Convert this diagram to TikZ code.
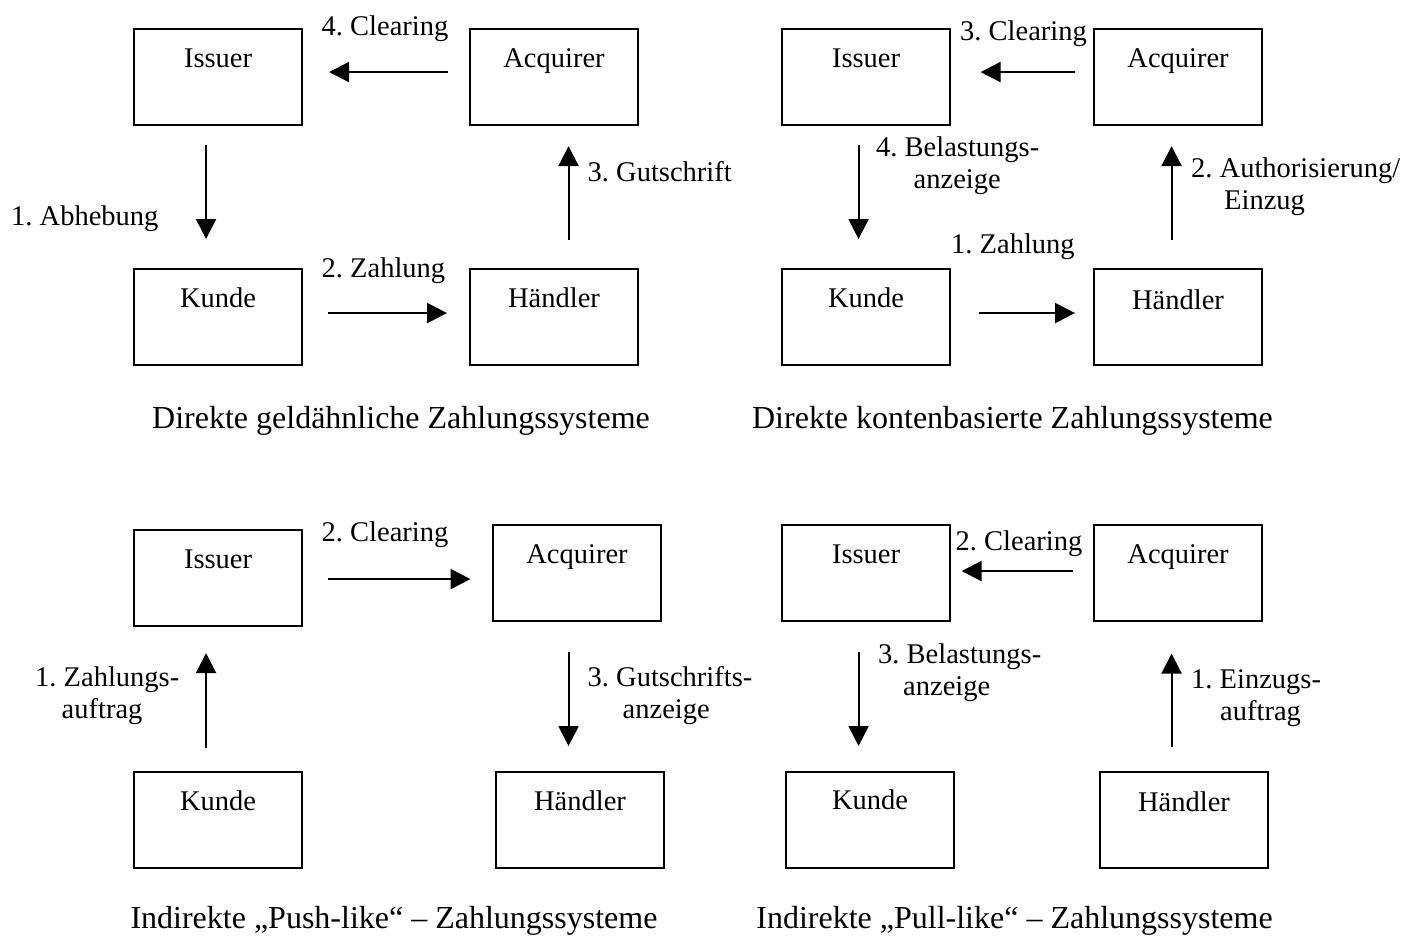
\documentclass[tikz,border=0pt]{standalone}
\usepackage{fontspec}
\setmainfont{Liberation Serif}
\usetikzlibrary{arrows.meta}

\begin{document}
\frenchspacing
\begin{tikzpicture}[
  x=1pt, y=-1pt,
  box/.style={draw, line width=2.1pt, minimum width=168pt, inner sep=0pt,
              text height=38pt, text depth=58pt, anchor=north west,
              font=\fontsize{28.5pt}{32pt}\selectfont},
  % multi-line labels are anchored at the baseline of their last line
  lbl/.style={inner sep=0pt, anchor=base west, align=left,
              font=\fontsize{28.5pt}{32pt}\selectfont},
  captxt/.style={inner sep=0pt, anchor=base,
              font=\fontsize{32pt}{38pt}\selectfont},
  arr/.style={line width=2.1pt, -{Triangle[length=20pt,width=20pt]}}
]
\useasboundingbox (0,0) rectangle (1423,938);

% ---------- Direkte geldähnliche Zahlungssysteme ----------
\node[box] (iss1) at (133,28)  {Issuer};
\node[box] (acq1) at (469,28)  {Acquirer};
\node[box] (kun1) at (133,268) {Kunde};
\node[box] (han1) at (469,268) {Händler};

\draw[arr, shorten <=21pt, shorten >=26pt]
  ([yshift=5pt]acq1.west) -- ([yshift=5pt]iss1.east);
\draw[arr, shorten <=19pt, shorten >=29pt]
  ([xshift=-12pt]iss1.south) -- ([xshift=-12pt]kun1.north);
\draw[arr, shorten <=25pt, shorten >=22pt]
  ([yshift=4pt]kun1.east) -- ([yshift=4pt]han1.west);
\draw[arr, shorten <=28pt, shorten >=20pt]
  ([xshift=14.5pt]han1.north) -- ([xshift=14.5pt]acq1.south);

\node[lbl] (l1a) at (321.5,35)  {4. Clearing};
\node[lbl] (l1b) at (11,225)    {1. Abhebung};
\node[lbl] (l1c) at (321.5,277) {2. Zahlung};
\node[lbl] (l1d) at (587.5,181.5) {3. Gutschrift};
\node[captxt] (cap1) at (401,428) {Direkte geldähnliche Zahlungssysteme};

% ---------- Direkte kontenbasierte Zahlungssysteme ----------
\node[box] (iss2) at (781,28)   {Issuer};
\node[box] (acq2) at (1093,28)  {Acquirer};
\node[box] (kun2) at (781,268)  {Kunde};
\node[box, text height=40pt, text depth=56pt] (han2) at (1093,268) {Händler};

\draw[arr, shorten <=18pt, shorten >=29.5pt]
  ([yshift=5pt]acq2.west) -- ([yshift=5pt]iss2.east);
\draw[arr, shorten <=19pt, shorten >=29pt]
  ([xshift=-7.5pt]iss2.south) -- ([xshift=-7.5pt]kun2.north);
\draw[arr, shorten <=28pt, shorten >=18pt]
  ([yshift=4pt]kun2.east) -- ([yshift=4pt]han2.west);
\draw[arr, shorten <=28pt, shorten >=20pt]
  ([xshift=-6.5pt]han2.north) -- ([xshift=-6.5pt]acq2.south);

\node[lbl] (l2a) at (960,40)    {3. Clearing};
\node[lbl] (l2b) at (876,188.5) {4. Belastungs-\\\hspace*{37.5pt}anzeige};
\node[lbl] (l2c) at (1191,209.5) {2. Authorisierung/\\\hspace*{33pt}Einzug};
\node[lbl] (l2d) at (951,253)   {1. Zahlung};
\node[captxt] (cap2) at (1012.5,428) {Direkte kontenbasierte Zahlungssysteme};

% ---------- Indirekte Push-like Zahlungssysteme ----------
\node[box] (iss3) at (133,529)  {Issuer};
\node[box] (acq3) at (492,524)  {Acquirer};
\node[box] (kun3) at (133,771)  {Kunde};
\node[box] (han3) at (495,771)  {Händler};

\draw[arr, shorten <=24.5pt, shorten >=21.5pt]
  ([yshift=-1pt]iss3.east) -- ([yshift=-1pt]iss3.east -| acq3.west);
\draw[arr, shorten <=23.5pt, shorten >=26pt]
  ([xshift=-12pt]kun3.north) -- ([xshift=-12pt]kun3.north |- iss3.south);
\draw[arr, shorten <=29.5pt, shorten >=25pt]
  ([xshift=-8.5pt]acq3.south) -- ([xshift=-8.5pt]acq3.south |- han3.north);

\node[lbl] (l3a) at (321.5,541.5) {2. Clearing};
\node[lbl] (l3b) at (35,718.5)    {1. Zahlungs-\\\hspace*{26.5pt}auftrag};
\node[lbl] (l3c) at (587.5,718.5) {3. Gutschrifts-\\\hspace*{35pt}anzeige};
\node[captxt] (cap3) at (394,928) {Indirekte „Push-like“ – Zahlungssysteme};

% ---------- Indirekte Pull-like Zahlungssysteme ----------
\node[box] (iss4) at (781,524)  {Issuer};
\node[box] (acq4) at (1093,524) {Acquirer};
\node[box, text height=37pt, text depth=59pt] (kun4) at (785,771)  {Kunde};
\node[box, text height=39pt, text depth=57pt] (han4) at (1099,771) {Händler};

\draw[arr, shorten <=20pt, shorten >=10.5pt]
  ([yshift=2pt]acq4.west) -- ([yshift=2pt]acq4.west -| iss4.east);
\draw[arr, shorten <=30pt, shorten >=25pt]
  ([xshift=-7.5pt]iss4.south) -- ([xshift=-7.5pt]iss4.south |- kun4.north);
\draw[arr, shorten <=24pt, shorten >=31.5pt]
  ([xshift=-12.5pt]han4.north) -- ([xshift=-12.5pt]han4.north |- acq4.south);

\node[lbl] (l4a) at (955.5,550)  {2. Clearing};
\node[lbl] (l4b) at (878,695.5)  {3. Belastungs-\\\hspace*{25pt}anzeige};
\node[lbl] (l4c) at (1191,720.5) {1. Einzugs-\\\hspace*{29pt}auftrag};
\node[captxt] (cap4) at (1014.5,928) {Indirekte „Pull-like“ – Zahlungssysteme};
\end{tikzpicture}
\end{document}
